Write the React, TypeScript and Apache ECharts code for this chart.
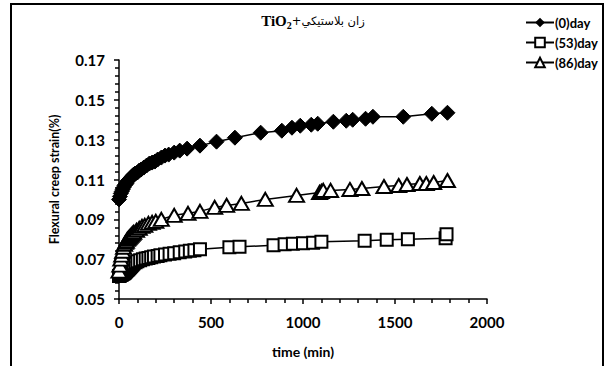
import React, { useEffect, useRef } from "react";
import * as echarts from "echarts";

const legendNames = ["(0)day", "(53)day", "(86)day"];

const t0 = [0, 5, 10, 15, 20, 25, 30, 35, 40, 45, 50, 55, 60, 65, 70, 75, 80, 85, 90, 100, 110, 120, 135, 150, 165, 180, 195, 210, 230, 250, 270, 300, 330, 370, 440, 530, 630, 770, 885, 940, 985, 1045, 1080, 1165, 1235, 1270, 1340, 1380, 1545, 1700, 1785];
const v0 = [0.100, 0.1015, 0.103, 0.104, 0.105, 0.106, 0.107, 0.1075, 0.108, 0.109, 0.1095, 0.110, 0.1105, 0.111, 0.1115, 0.112, 0.1125, 0.1128, 0.113, 0.1135, 0.1145, 0.115, 0.116, 0.117, 0.118, 0.1185, 0.119, 0.120, 0.121, 0.122, 0.1225, 0.1235, 0.1245, 0.1255, 0.127, 0.129, 0.131, 0.1335, 0.1345, 0.136, 0.137, 0.1375, 0.138, 0.139, 0.1395, 0.140, 0.1405, 0.1415, 0.1415, 0.143, 0.1435];

const t1 = [0, 5, 10, 15, 20, 25, 30, 35, 40, 45, 50, 55, 60, 65, 70, 75, 80, 90, 100, 115, 130, 145, 160, 175, 190, 210, 225, 250, 275, 300, 330, 360, 385, 410, 440, 600, 655, 840, 900, 945, 1000, 1055, 1100, 1335, 1455, 1570, 1775, 1780];
const v1 = [0.0615, 0.0617, 0.062, 0.0622, 0.0625, 0.0628, 0.063, 0.0635, 0.064, 0.0645, 0.065, 0.0655, 0.066, 0.0665, 0.067, 0.0675, 0.068, 0.0685, 0.069, 0.0695, 0.070, 0.0703, 0.0706, 0.071, 0.0713, 0.0716, 0.072, 0.0723, 0.0727, 0.073, 0.0735, 0.0738, 0.0742, 0.0745, 0.075, 0.076, 0.0762, 0.077, 0.0775, 0.0777, 0.078, 0.0783, 0.0787, 0.0793, 0.0797, 0.080, 0.0805, 0.0825];

const t2 = [0, 5, 10, 15, 20, 25, 30, 35, 40, 45, 50, 55, 60, 65, 70, 75, 80, 95, 110, 125, 140, 160, 180, 200, 230, 300, 375, 440, 520, 585, 665, 795, 965, 1090, 1100, 1110, 1150, 1255, 1320, 1440, 1520, 1565, 1635, 1670, 1710, 1785];
const v2 = [0.064, 0.067, 0.070, 0.072, 0.074, 0.076, 0.0775, 0.0785, 0.079, 0.080, 0.0805, 0.081, 0.0815, 0.082, 0.0825, 0.083, 0.0835, 0.0845, 0.0855, 0.0865, 0.087, 0.088, 0.0885, 0.089, 0.090, 0.092, 0.093, 0.094, 0.096, 0.097, 0.098, 0.100, 0.102, 0.1035, 0.104, 0.1045, 0.1045, 0.105, 0.1055, 0.1065, 0.107, 0.1075, 0.108, 0.108, 0.1085, 0.1095];

const pairs = (t: number[], v: number[]) => t.map((x, i) => [x, v[i]]);

export default function App() {
  const ref = useRef<HTMLDivElement>(null);
  useEffect(() => {
    if (!ref.current) return;
    const chart = echarts.init(ref.current, null, { renderer: "svg" });
    const lbl = { fontFamily: "Lato", fontWeight: "bold" as const, fontSize: 15, color: "#000" };
    chart.setOption({
      animation: false,
      backgroundColor: "#fff",
      grid: { left: 119, top: 60, right: 127, bottom: 67 },
      graphic: [
        {
          type: "rect",
          shape: { x: 11, y: 4, width: 592, height: 380 },
          style: { fill: "none", stroke: "#000", lineWidth: 2 },
          silent: true,
        },
        {
          type: "text",
          x: 313,
          y: 21,
          style: {
            text: "{a|TiO}{b|2}{c|+زان بلاستيكي}",
            align: "center",
            verticalAlign: "middle",
            rich: {
              a: { fontFamily: "Liberation Serif", fontWeight: "bold", fontSize: 15, fill: "#000" },
              b: { fontFamily: "Liberation Serif", fontWeight: "bold", fontSize: 10, fill: "#000", padding: [9, 0, 0, 0] },
              c: { fontFamily: "DejaVu Sans", fontSize: 11.5, fill: "#000" },
            },
          },
        },
      ],
      legend: {
        orient: "vertical",
        left: 520,
        top: 11,
        itemWidth: 28,
        itemHeight: 12,
        itemGap: 7,
        textStyle: { fontFamily: "Lato", fontWeight: "bold", fontSize: 13, color: "#000", padding: [0, 0, 0, -4] },
        data: legendNames,
      },
      xAxis: {
        type: "value",
        min: 0,
        max: 2000,
        interval: 500,
        name: "time (min)",
        nameLocation: "middle",
        nameGap: 45,
        nameTextStyle: { ...lbl, fontSize: 14 },
        axisLine: { lineStyle: { color: "#000", width: 1.5 } },
        axisTick: { length: 5, lineStyle: { color: "#000", width: 1.5 } },
        minorTick: { show: true, splitNumber: 5, length: 4, lineStyle: { color: "#000", width: 1.5 } },
        axisLabel: { ...lbl, margin: 15, formatter: (v: number) => String(v) },
        splitLine: { show: false },
      },
      yAxis: {
        type: "value",
        min: 0.05,
        max: 0.17,
        interval: 0.02,
        name: "Flexural creep strain(%)",
        nameLocation: "middle",
        nameGap: 58,
        nameTextStyle: { ...lbl, fontSize: 12.5 },
        axisLine: { show: true, lineStyle: { color: "#000", width: 1.5 } },
        axisTick: { show: true, length: 5, lineStyle: { color: "#000", width: 1.5 } },
        minorTick: { show: true, splitNumber: 5, length: 4, lineStyle: { color: "#000", width: 1.5 } },
        axisLabel: { ...lbl, margin: 14, formatter: (v: number) => v.toFixed(2) },
        splitLine: { show: false },
      },
      series: [
        {
          name: legendNames[0],
          type: "line",
          data: pairs(t0, v0),
          symbol: "diamond",
          symbolSize: 15,
          lineStyle: { color: "#000", width: 1.5 },
          itemStyle: { color: "#000", borderColor: "#000" },
        },
        {
          name: legendNames[1],
          type: "line",
          data: pairs(t1, v1),
          symbol: "rect",
          symbolSize: 12,
          lineStyle: { color: "#000", width: 1.5 },
          itemStyle: { color: "#fff", borderColor: "#000", borderWidth: 2 },
        },
        {
          name: legendNames[2],
          type: "line",
          data: pairs(t2, v2),
          symbol: "triangle",
          symbolSize: [15, 13],
          lineStyle: { color: "#000", width: 1.5 },
          itemStyle: { color: "#fff", borderColor: "#000", borderWidth: 2 },
        },
      ],
    });
    return () => chart.dispose();
  }, []);
  return <div ref={ref} style={{ width: 614, height: 366, position: "absolute", left: 0, top: 0 }} />;
}
